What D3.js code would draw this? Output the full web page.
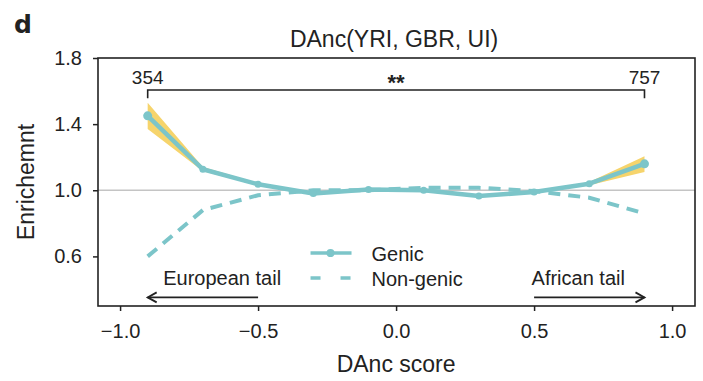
<!DOCTYPE html>
<html>
<head>
<meta charset="utf-8">
<script src="https://cdn.jsdelivr.net/npm/d3@7"></script>
<style>
  body { margin: 0; background: #fff; }
  text { font-family: "Liberation Sans", Arial, Helvetica, sans-serif; fill: #222; }
</style>
</head>
<body>
<div id="wrapper"></div>
<script>
// DAnc score bins (centres)
const scores = [-0.9, -0.7, -0.5, -0.3, -0.1, 0.1, 0.3, 0.5, 0.7, 0.9]
const genic = [1.45, 1.127, 1.036, 0.98, 1.005, 1.0, 0.965, 0.99, 1.04, 1.16]
const genicLow = [1.37, 1.115, 1.03, 0.974, 1.0, 0.995, 0.96, 0.985, 1.03, 1.11]
const genicHigh = [1.53, 1.14, 1.043, 0.986, 1.01, 1.005, 0.97, 0.995, 1.05, 1.205]
const nonGenic = [0.6, 0.88, 0.97, 1.0, 1.0, 1.015, 1.015, 0.995, 0.955, 0.86]

const xTicks = [-1.0, -0.5, 0.0, 0.5, 1.0]
const yTicks = [0.6, 1.0, 1.4, 1.8]
const bracketCounts = ["354", "757"]

const teal = "#7cc5c9"
const yellow = "#f6d46c"

function drawChart() {
    let dimensions = {
        width: 703,
        height: 381,
        margins: { top: 58, right: 8, bottom: 75, left: 98 }
    }
    dimensions.boundedWidth = dimensions.width - dimensions.margins.left - dimensions.margins.right
    dimensions.boundedHeight = dimensions.height - dimensions.margins.top - dimensions.margins.bottom

    const svg = d3.select("#wrapper")
        .append("svg")
            .attr("width", dimensions.width)
            .attr("height", dimensions.height)

    const bounds = svg.append("g")
        .attr("transform", `translate(${dimensions.margins.left},${dimensions.margins.top})`)

    // Scales
    const xScale = d3.scaleLinear()
        .domain([-1.08, 1.083])
        .range([0, dimensions.boundedWidth])

    const yScale = d3.scaleLinear()
        .domain([0.3, 1.8])
        .range([dimensions.boundedHeight, 0])

    const rows = scores.map((s, i) => ({
        x: s, g: genic[i], lo: genicLow[i], hi: genicHigh[i], ng: nonGenic[i]
    }))

    // reference line at 1.0
    bounds.append("line")
        .attr("x1", 0)
        .attr("x2", dimensions.boundedWidth)
        .attr("y1", yScale(1))
        .attr("y2", yScale(1))
        .attr("stroke", "#c4c4c4")
        .attr("stroke-width", 1.5)

    // non-genic dashed
    const lineNg = d3.line()
        .x(d => xScale(d.x))
        .y(d => yScale(d.ng))
    bounds.append("path")
        .attr("d", lineNg(rows))
        .attr("fill", "none")
        .attr("stroke", teal)
        .attr("stroke-width", 4)
        .attr("stroke-dasharray", "12,8")

    // confidence band
    const area = d3.area()
        .x(d => xScale(d.x))
        .y0(d => yScale(d.lo))
        .y1(d => yScale(d.hi))
    bounds.append("path")
        .attr("d", area(rows))
        .attr("fill", yellow)

    // genic line
    const lineG = d3.line()
        .x(d => xScale(d.x))
        .y(d => yScale(d.g))
    bounds.append("path")
        .attr("d", lineG(rows))
        .attr("fill", "none")
        .attr("stroke", teal)
        .attr("stroke-width", 4.5)
        .attr("stroke-linejoin", "round")

    bounds.selectAll(".pt")
        .data(rows)
        .join("circle")
            .attr("cx", d => xScale(d.x))
            .attr("cy", d => yScale(d.g))
            .attr("r", d => (d.x === -0.9 || d.x === 0.9) ? 4.5 : 3.5)
            .attr("fill", teal)

    // box
    bounds.append("rect")
        .attr("width", dimensions.boundedWidth)
        .attr("height", dimensions.boundedHeight)
        .attr("fill", "none")
        .attr("stroke", "#222")
        .attr("stroke-width", 1.6)

    // Axes
    const xAxis = bounds.append("g")
        .attr("transform", `translate(0,${dimensions.boundedHeight})`)
        .call(d3.axisBottom(xScale).tickValues(xTicks).tickFormat(d3.format(".1f")).tickSize(5).tickPadding(8))
    const yAxis = bounds.append("g")
        .call(d3.axisLeft(yScale).tickValues(yTicks).tickFormat(d3.format(".1f")).tickSize(5).tickPadding(11))

    for (const ax of [xAxis, yAxis]) {
        ax.select(".domain").remove()
        ax.selectAll("line").attr("stroke", "#222").attr("stroke-width", 1.5)
        ax.selectAll("text").style("font-size", "20px").attr("fill", "#222")
            .style("font-family", "'Liberation Sans', Arial, sans-serif")
    }
    xAxis.selectAll("text").attr("dy", "0.95em")

    // bracket on top
    const bTop = yScale(1.606)
    const bBottom = yScale(1.557)
    bounds.append("path")
        .attr("d", `M${xScale(-0.9)},${bBottom}V${bTop}H${xScale(0.9)}V${bBottom}`)
        .attr("fill", "none")
        .attr("stroke", "#222")
        .attr("stroke-width", 1.6)
    bounds.selectAll(".cnt")
        .data(bracketCounts)
        .join("text")
            .attr("x", (d, i) => xScale(i === 0 ? -0.9 : 0.9))
            .attr("y", yScale(1.64))
            .attr("text-anchor", "middle")
            .style("font-size", "19px")
            .text(d => d)
    bounds.append("text")
        .attr("x", xScale(0))
        .attr("y", yScale(1.606))
        .attr("text-anchor", "middle")
        .style("font-size", "22px")
        .style("font-weight", "bold")
        .text("**")

    // tail arrows
    const arrowY = yScale(0.352)
    const arrows = [
        { from: -0.5, to: -0.9, label: "European tail", lx: -0.63 },
        { from: 0.5, to: 0.9, label: "African tail", lx: 0.66 }
    ]
    arrows.forEach(a => {
        const x0 = xScale(a.from), x1 = xScale(a.to)
        const dir = Math.sign(x1 - x0)
        bounds.append("line")
            .attr("x1", x0).attr("x2", x1)
            .attr("y1", arrowY).attr("y2", arrowY)
            .attr("stroke", "#222").attr("stroke-width", 1.8)
        bounds.append("path")
            .attr("d", `M${x1 - dir * 9},${arrowY - 5}L${x1},${arrowY}L${x1 - dir * 9},${arrowY + 5}`)
            .attr("fill", "none").attr("stroke", "#222").attr("stroke-width", 1.8)
        bounds.append("text")
            .attr("x", xScale(a.lx))
            .attr("y", arrowY - 12)
            .attr("text-anchor", "middle")
            .style("font-size", "20px")
            .text(a.label)
    })

    // legend
    const legend = bounds.append("g")
        .attr("transform", `translate(${xScale(-0.31)},${yScale(0.62)})`)
    legend.append("line")
        .attr("x1", 0).attr("x2", 41).attr("y1", 0).attr("y2", 0)
        .attr("stroke", teal).attr("stroke-width", 3.5)
    legend.append("circle").attr("cx", 20).attr("cy", 0).attr("r", 4).attr("fill", teal)
    legend.append("line")
        .attr("x1", 0).attr("x2", 41).attr("y1", 25).attr("y2", 25)
        .attr("stroke", teal).attr("stroke-width", 3.5)
        .attr("stroke-dasharray", "10,20")
    legend.append("text").attr("x", 61).attr("y", 8).style("font-size", "20px").text("Genic")
    legend.append("text").attr("x", 61).attr("y", 33).style("font-size", "20px").text("Non-genic")

    // titles
    svg.append("text")
        .attr("x", dimensions.margins.left + xScale(0) - 2)
        .attr("y", 47)
        .attr("text-anchor", "middle")
        .style("font-size", "23px")
        .text("DAnc(YRI, GBR, UI)")

    svg.append("text")
        .attr("x", 14)
        .attr("y", 33)
        .style("font-size", "25px")
        .style("font-family", "'DejaVu Sans', sans-serif")
        .style("font-weight", "bold")
        .attr("fill", "#111")
        .text("d")

    svg.append("text")
        .attr("x", dimensions.margins.left + xScale(0))
        .attr("y", 372)
        .attr("text-anchor", "middle")
        .style("font-size", "23px")
        .text("DAnc score")

    svg.append("text")
        .attr("transform", `translate(34,${dimensions.margins.top + dimensions.boundedHeight / 2}) rotate(-90)`)
        .attr("text-anchor", "middle")
        .style("font-size", "23px")
        .text("Enrichemnt")
}
drawChart()
</script>
</body>
</html>
